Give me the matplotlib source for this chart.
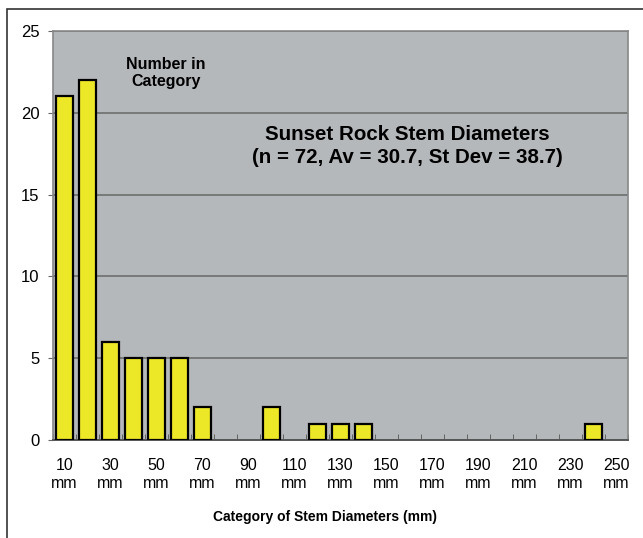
import matplotlib
matplotlib.use('Agg')
import matplotlib.pyplot as plt
import numpy as np
from matplotlib.patches import Rectangle

plt.rcParams['font.family'] = ['Liberation Sans', 'DejaVu Sans']

# diameter categories (mm) and counts
categories = list(range(10, 260, 10))
counts = [21, 22, 6, 5, 5, 5, 2, 0, 0, 2, 0, 1, 1, 1, 0, 0, 0, 0, 0, 0, 0, 0, 0, 1, 0]
tick_labels = [f"{c}\nmm" if i % 2 == 0 else "" for i, c in enumerate(categories)]

fig = plt.figure(figsize=(6.43, 5.38), dpi=100)
# outer frame
fig.patches.append(Rectangle((7 / 643, -0.1), 1.1, (538 - 9) / 538 + 0.1,
                             transform=fig.transFigure, fill=False,
                             edgecolor='#333333', linewidth=1.2))

ax = fig.add_axes([53 / 643, 1 - 440 / 538, 575 / 643, 409 / 538])
ax.set_facecolor('#b5b8bb')
x = np.arange(len(categories))
c = np.array(counts)
nz = c > 0  # empty categories get no bar outline
ax.bar(x[nz], c[nz], width=0.72, color='#ece828', edgecolor='black', linewidth=1.6, zorder=3)

ax.set_xlim(-0.5, len(categories) - 0.5)
ax.set_ylim(0, 25)
ax.set_yticks(range(0, 26, 5))
ax.yaxis.grid(True, color='#6e6e6e', linewidth=1.2, zorder=0)
ax.set_xticks(x)
ax.set_xticklabels(tick_labels, fontsize=11.5, linespacing=1.25)
ax.set_xticks(np.arange(-0.5, len(categories), 1), minor=True)
ax.tick_params(axis='x', which='major', length=0, pad=13)
ax.tick_params(axis='x', which='minor', length=4, direction='in', color='#555555')
ax.tick_params(axis='y', length=3.6, color='#666666', labelsize=12, pad=6)

for s in ['left', 'top', 'right']:
    ax.spines[s].set_color('#888888')
    ax.spines[s].set_linewidth(1.2)
ax.spines['bottom'].set_color('#555555')
ax.spines['bottom'].set_linewidth(1.4)

ax.text(0.196, 0.897, "Number in\nCategory", transform=ax.transAxes, ha='center', va='center',
        fontsize=11.5, fontweight='bold', linespacing=1.2)
ax.text(0.617, 0.719, "Sunset Rock Stem Diameters\n(n = 72, Av = 30.7, St Dev = 38.7)",
        transform=ax.transAxes, ha='center', va='center', fontsize=14.8,
        fontweight='bold', linespacing=1.25)

fig.text(325 / 643, 1 - 517 / 538, "Category of Stem Diameters (mm)", ha='center', va='center',
         fontsize=10, fontweight='bold')

fig.savefig('out.png', dpi=100)
